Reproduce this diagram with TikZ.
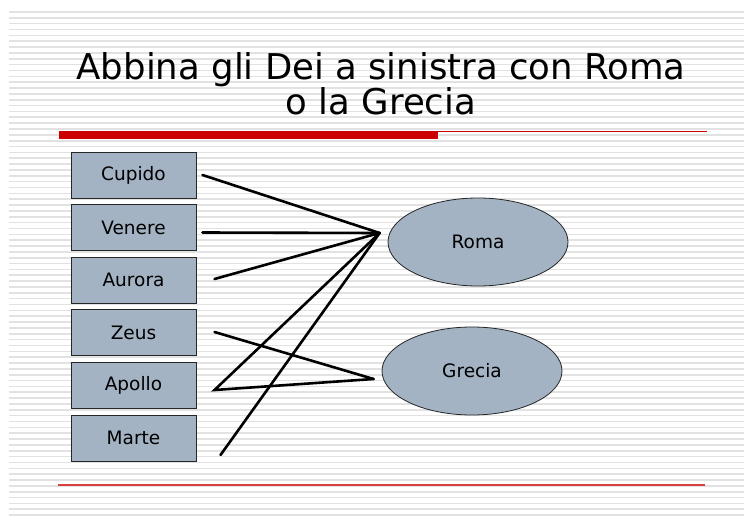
\documentclass[tikz,border=0pt]{standalone}
\usepackage{fontspec}
\setmainfont{DejaVu Sans}
\usetikzlibrary{shapes.geometric,calc}
\definecolor{godfill}{HTML}{A3B3C3}
\definecolor{slidered}{HTML}{CC0000}
\definecolor{stripegray}{HTML}{E2E2E2}

\tikzset{
  god/.style={draw=black!85,fill=godfill,line width=1pt,minimum width=125pt,minimum height=46pt,font=\fontsize{18.5}{20}\selectfont},
  city/.style={ellipse,draw=black!85,fill=godfill,line width=0.8pt,minimum width=180pt,minimum height=88pt,font=\fontsize{18.5}{20}\selectfont},
  link/.style={line width=2.6pt,line cap=round}
}

\begin{document}
\begin{tikzpicture}[x=1pt,y=-1pt]
\useasboundingbox (0,0) rectangle (744,524);
\fill[white] (0,0) rectangle (744,524);
\foreach \i in {0,...,86}
  \draw[stripegray,line width=1.6pt] (9,12+5.85*\i) -- (744,12+5.85*\i);

\node[align=center,font=\fontsize{35.5}{35}\selectfont] (title) at (381,84) {Abbina gli Dei a sinistra con Roma\\o la Grecia};
\fill[slidered] (59,131) rectangle (438,139);
\draw[slidered,line width=1.2pt] (438,131.5) -- (707,131.5);
\draw[slidered!75,line width=1.6pt] (58,485) -- (705,485);

\node[god] (cupido) at (133.5,175) {Cupido};
\node[god] (venere) at (133.5,227.5) {Venere};
\node[god] (aurora) at (133.5,280) {Aurora};
\node[god] (zeus) at (133.5,332.5) {Zeus};
\node[god] (apollo) at (133.5,385.5) {Apollo};
\node[god] (marte) at (133.5,438) {Marte};

\node[city] (roma) at (478,242) {Roma};
\node[city] (grecia) at (472,371) {Grecia};

\coordinate (romahub) at ($(roma.west)+(-8,-9)$);
\coordinate (greciahub) at ($(grecia.west)+(-8,8)$);
\coordinate (apollohub) at ($(apollo.east)+(18,4.5)$);

\draw[link] ($(cupido.east)+(6,0)$) -- (romahub);
\draw[link] ($(venere.east)+(6,5)$) -- (romahub);
\draw[link] ($(aurora.east)+(18,-1)$) -- (romahub);
\draw[link] ($(zeus.east)+(18,-0.5)$) -- (greciahub);
\draw[link] (romahub) -- (apollohub) -- (greciahub);
\draw[link] ($(marte.east)+(24,17)$) -- (romahub);
\end{tikzpicture}
\end{document}
